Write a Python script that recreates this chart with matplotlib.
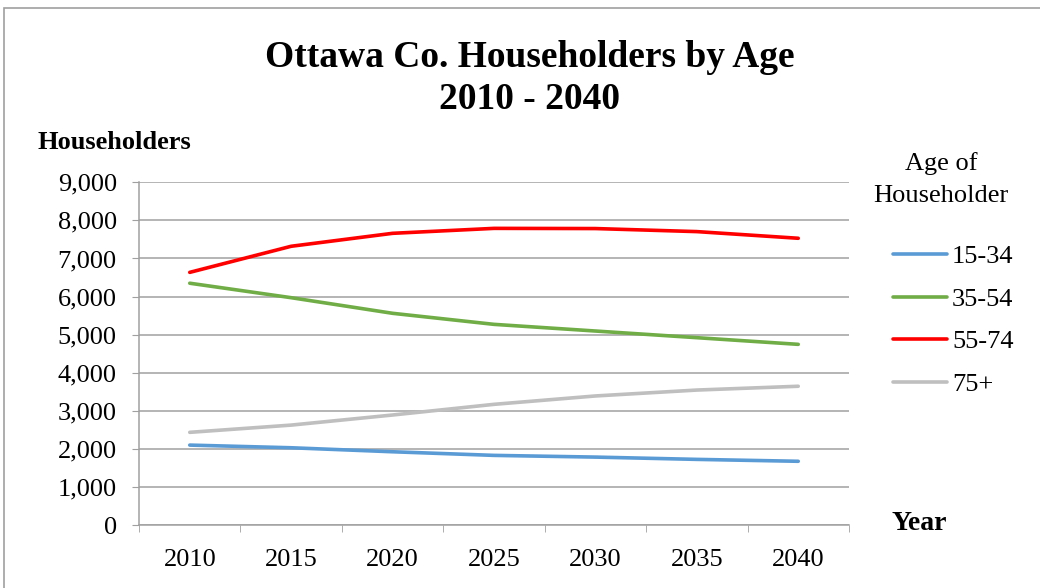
import matplotlib
matplotlib.use("Agg")
import matplotlib.pyplot as plt
from matplotlib.patches import Rectangle
from matplotlib.ticker import FuncFormatter, MultipleLocator

years = ["2010", "2015", "2020", "2025", "2030", "2035", "2040"]
age_groups = ["15-34", "35-54", "55-74", "75+"]
hh_15_34 = [2100, 2030, 1925, 1830, 1785, 1725, 1675]
hh_35_54 = [6350, 5970, 5560, 5270, 5095, 4920, 4745]
hh_55_74 = [6635, 7320, 7660, 7790, 7785, 7705, 7530]
hh_75_plus = [2435, 2625, 2890, 3170, 3390, 3545, 3645]
series = [hh_15_34, hh_35_54, hh_55_74, hh_75_plus]
colors = ["#5B9BD5", "#70AD47", "#FF0000", "#BFBFBF"]

plt.rcParams["font.family"] = ["Liberation Serif", "DejaVu Serif"]

fig = plt.figure(figsize=(10.4, 5.88), dpi=100)
ax = fig.add_axes([0.1337, 0.107, 0.6826, 0.583])

x = list(range(len(years)))
for vals, col, lab in zip(series, colors, age_groups):
    ax.plot(x, vals, color=col, lw=2.6, label=lab, solid_capstyle="round")

ax.set_xlim(-0.5, len(years) - 0.5)
ax.set_ylim(0, 9000)
ax.yaxis.set_major_locator(MultipleLocator(1000))
ax.yaxis.set_major_formatter(FuncFormatter(lambda v, p: "{:,.0f}".format(v)))
ax.set_xticks(x)
ax.set_xticklabels(years)
ax.set_xticks([i - 0.5 for i in range(len(years) + 1)], minor=True)
ax.tick_params(axis="x", which="major", length=0, labelsize=19, pad=17)
ax.tick_params(axis="x", which="minor", length=5, color="#a0a0a0", direction="out")
ax.tick_params(axis="y", length=5, color="#a0a0a0", labelsize=19, pad=11)

ax.grid(axis="y", color="#a0a0a0", lw=1.1)
ax.set_axisbelow(True)
for side in ["top", "right"]:
    ax.spines[side].set_visible(False)
for side in ["left", "bottom"]:
    ax.spines[side].set_color("#a0a0a0")
    ax.spines[side].set_linewidth(1.1)

fig.text(0.509, 0.903, "Ottawa Co. Householders by Age", ha="center", va="center",
         fontsize=27, fontweight="bold")
fig.text(0.509, 0.831, "2010 - 2040", ha="center", va="center",
         fontsize=27, fontweight="bold")
fig.text(0.036, 0.757, "Householders", ha="left", va="center", fontsize=19, fontweight="bold")
fig.text(0.857, 0.11, "Year", ha="left", va="center", fontsize=20, fontweight="bold")

# legend title as its own text, entries below it
fig.text(0.905, 1 - 179.5 / 588, "Age of\nHouseholder", ha="center", va="center",
         fontsize=19, linespacing=1.55, multialignment="center")
leg = fig.legend(loc="upper left", bbox_to_anchor=(893 / 1040, 1 - 245 / 588),
                 frameon=False, fontsize=19, handlelength=2.05, handletextpad=0.19,
                 labelspacing=0.72, borderaxespad=0, borderpad=0)

fig.patches.append(Rectangle((4 / 1040, -0.1), 1.2, 1 - 8 / 588 + 0.1,
                             transform=fig.transFigure, fill=False,
                             edgecolor="#a0a0a0", lw=1.2))

fig.savefig("out.png", dpi=100)
